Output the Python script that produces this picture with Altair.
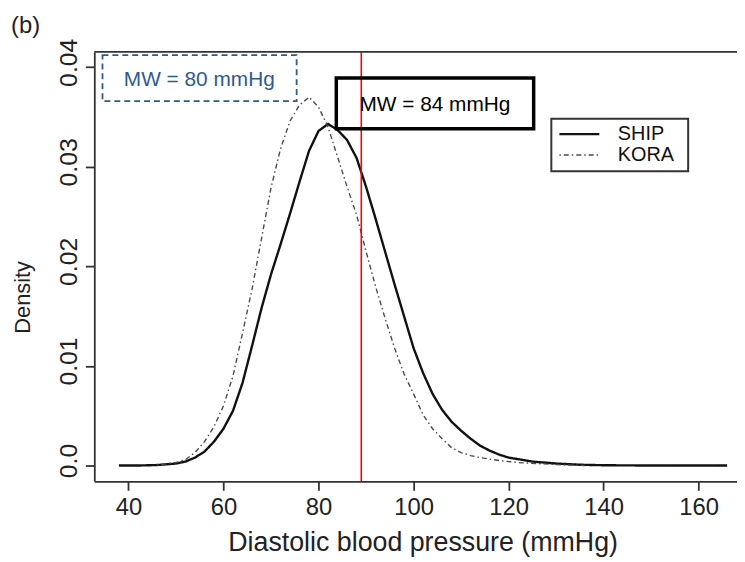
import altair as alt
import pandas as pd

# ---- data ----
ship_x = [38, 42, 46, 50, 52, 54, 56, 58, 60, 62, 64, 66, 68, 70, 72, 74, 76, 78, 80, 82,
          84, 86, 88, 90, 92, 94, 96, 98, 100, 102, 104, 106, 108, 110, 112, 114, 116, 118,
          120, 125, 130, 135, 140, 150, 166]
ship_y = [0.0, 0.0, 0.00005, 0.0002, 0.0004, 0.0008, 0.0014, 0.0024, 0.0037, 0.0055, 0.0083,
          0.0120, 0.0158, 0.0192, 0.0222, 0.0253, 0.0285, 0.0316, 0.0336, 0.0343,
          0.0337, 0.0327, 0.0309, 0.0280, 0.0248, 0.0215, 0.0182, 0.0150, 0.0118, 0.0093,
          0.0072, 0.0056, 0.0044, 0.0035, 0.0027, 0.0020, 0.0015, 0.0011,
          0.0008, 0.0004, 0.0002, 0.00008, 0.00003, 0.0, 0.0]

kora_x = [46, 50, 52, 54, 56, 58, 60, 62, 64, 66, 68, 70, 72, 74, 76, 78, 80, 82, 84, 86,
          88, 90, 92, 94, 96, 98, 100, 102, 104, 106, 108, 110, 112, 114, 118, 122, 126, 130, 136]
kora_y = [0.00005, 0.0003, 0.0006, 0.0013, 0.0024, 0.0039, 0.0060, 0.0090, 0.0133, 0.0177,
          0.0228, 0.0279, 0.0318, 0.0346, 0.0362, 0.0370, 0.0360, 0.0340, 0.0310, 0.0280,
          0.0252, 0.0215, 0.0180, 0.0148, 0.0118, 0.0092, 0.0072, 0.0051, 0.0037, 0.0027,
          0.0018, 0.0013, 0.0010, 0.0008, 0.0005, 0.0003, 0.0002, 0.0001, 0.0]

studies = ["SHIP", "KORA"]
threshold = [89]

x_ticks = [40, 60, 80, 100, 120, 140, 160]
y_ticks = [0.0, 0.01, 0.02, 0.03, 0.04]

# annotation labels (anchored in data units)
ann_text = ["MW = 80 mmHg", "MW = 84 mmHg"]
ann_x = [54.9, 104.5]
ann_y = [0.03871, 0.03622]
ann_color = ["#2e5b8c", "#000000"]
box_x1 = [34.53, 83.74]
box_x2 = [75.39, 125.28]
box_y1 = [0.04122, 0.03891]
box_y2 = [0.03659, 0.03383]

# legend layout (data units)
leg_box_x = [129.0, 157.8]
leg_box_y = [0.03483, 0.02955]
leg_line_x = [130.7, 139.1]
leg_text_x = 143.0
leg_row_y = [0.03328, 0.03119]

df = pd.concat([
    pd.DataFrame({"bp": ship_x, "density": ship_y, "study": "SHIP"}),
    pd.DataFrame({"bp": kora_x, "density": kora_y, "study": "KORA"}),
])
ann_df = pd.DataFrame({"label": ann_text, "x": ann_x, "y": ann_y, "c": ann_color})
box1_df = pd.DataFrame({"x1": [box_x1[0]], "x2": [box_x2[0]], "y1": [box_y1[0]], "y2": [box_y2[0]]})
box2_df = pd.DataFrame({"x1": [box_x1[1]], "x2": [box_x2[1]], "y1": [box_y1[1]], "y2": [box_y2[1]]})
thr_df = pd.DataFrame({"bp": threshold})
legbox_df = pd.DataFrame({"x1": [leg_box_x[0]], "x2": [leg_box_x[1]], "y1": [leg_box_y[0]], "y2": [leg_box_y[1]]})
legline_df = pd.DataFrame({"study": studies, "x1": leg_line_x[0], "x2": leg_line_x[1],
                           "y": leg_row_y, "tx": leg_text_x})

W, H = 648, 433
x_scale = alt.Scale(domain=[32.8, 168.08], nice=False, zero=False)
y_scale = alt.Scale(domain=[-0.00159, 0.04154], nice=False, zero=False)

AX = "#333333"
FONT = "Liberation Sans, Arial"

x_enc = alt.X("bp:Q", scale=x_scale, axis=alt.Axis(
    values=x_ticks, title="Diastolic blood pressure (mmHg)", grid=False,
    domainColor=AX, domainWidth=1.8, tickColor=AX, tickWidth=1.8, tickSize=9,
    labelFont=FONT, labelFontSize=24, labelColor="#222", labelPadding=5,
    titleFont=FONT, titleFontSize=27, titleFontWeight="normal", titleColor="#222",
    titlePadding=11, titleX=331, titleAlign="center"))
y_enc = alt.Y("density:Q", scale=y_scale, axis=alt.Axis(
    values=y_ticks, title="Density", grid=False,
    labelExpr="datum.value == 0 ? '0.0' : format(datum.value, '.2f')",
    labelAngle=270, labelAlign="center", labelBaseline="bottom", labelOffset=-5,
    domainColor=AX, domainWidth=1.8, tickColor=AX, tickWidth=1.8, tickSize=9,
    labelFont=FONT, labelFontSize=25, labelColor="#222", labelPadding=4,
    titleFont=FONT, titleFontSize=22, titleFontWeight="normal", titleColor="#222",
    titlePadding=22, titleY=247, titleAlign="center"))

color_scale = alt.Scale(domain=studies, range=["#111111", "#4a4a4a"])
dash_scale = alt.Scale(domain=studies, range=[[1, 0], [1.5, 3, 5, 3]])
width_scale = alt.Scale(domain=studies, range=[2.4, 1.4])

lines = alt.Chart(df).mark_line(clip=True).encode(
    x=x_enc,
    y=y_enc,
    color=alt.Color("study:N", scale=color_scale, legend=None),
    strokeDash=alt.StrokeDash("study:N", scale=dash_scale, legend=None),
    strokeWidth=alt.StrokeWidth("study:N", scale=width_scale, legend=None),
)

rule = alt.Chart(thr_df).mark_rule(color="#ff0000", strokeWidth=1.6).encode(
    x=alt.X("bp:Q", scale=x_scale))

box1 = alt.Chart(box1_df).mark_rect(fillOpacity=0, stroke="#2e5b8c", strokeWidth=1.8,
                                    strokeDash=[6, 4]).encode(
    x=alt.X("x1:Q", scale=x_scale), x2="x2", y=alt.Y("y1:Q", scale=y_scale), y2="y2")
box2 = alt.Chart(box2_df).mark_rect(fillOpacity=0, stroke="#000000", strokeWidth=3.5).encode(
    x=alt.X("x1:Q", scale=x_scale), x2="x2", y=alt.Y("y1:Q", scale=y_scale), y2="y2")

texts = alt.Chart(ann_df).mark_text(font=FONT, fontSize=21, align="center", baseline="middle").encode(
    x=alt.X("x:Q", scale=x_scale), y=alt.Y("y:Q", scale=y_scale), text="label:N",
    color=alt.Color("c:N", scale=None),
)

# legend
leg_box = alt.Chart(legbox_df).mark_rect(fillOpacity=0, stroke="#333333", strokeWidth=2).encode(
    x=alt.X("x1:Q", scale=x_scale), x2="x2", y=alt.Y("y1:Q", scale=y_scale), y2="y2")
leg_lines = alt.Chart(legline_df).mark_rule().encode(
    x=alt.X("x1:Q", scale=x_scale), x2="x2", y=alt.Y("y:Q", scale=y_scale),
    color=alt.Color("study:N", scale=color_scale, legend=None),
    strokeDash=alt.StrokeDash("study:N", scale=dash_scale, legend=None),
    strokeWidth=alt.StrokeWidth("study:N", scale=width_scale, legend=None),
)
leg_text = alt.Chart(legline_df).mark_text(font=FONT, fontSize=20, align="left", baseline="middle",
                                           color="#111111").encode(
    x=alt.X("tx:Q", scale=x_scale), y=alt.Y("y:Q", scale=y_scale), text="study:N")

top_border = alt.Chart(thr_df).mark_rule(color=AX, strokeWidth=1.8).encode(
    y=alt.value(0), x=alt.value(0), x2=alt.value(W))

chart = alt.layer(lines, rule, box1, box2, texts, leg_box, leg_lines, leg_text, top_border).properties(
    width=W, height=H,
    padding={"left": 87, "top": 42, "right": 0, "bottom": 75},
    autosize=alt.AutoSizeParams(type="none"),
    title=alt.Title("(b)", anchor="start", frame="group", dx=-84, dy=6, offset=6,
                    font=FONT, fontSize=24, fontWeight="normal", color="#222"),
).configure_view(stroke=None)

chart.save("out.html", embed_options={"renderer": "svg", "actions": False})
